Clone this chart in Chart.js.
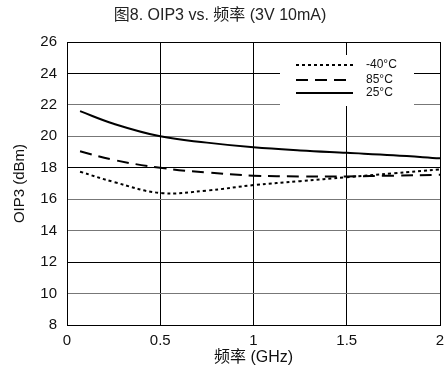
<!DOCTYPE html>
<html>
<head>
<meta charset="utf-8">
<script src="https://cdn.jsdelivr.net/npm/chart.js@4/dist/chart.umd.min.js"></script>
<style>
  html, body { margin: 0; padding: 0; background: #fff; }
  #wrap { width: 446px; height: 376px; }
</style>
</head>
<body>
<div id="wrap"><canvas id="oip3Chart"></canvas></div>
<script>
// Data
const freqs = [0.07, 0.25, 0.5, 0.75, 1.0, 1.25, 1.5, 1.75, 2.0];
const oip3Cold = [17.75, 17.1, 16.4, 16.55, 16.9, 17.15, 17.4, 17.65, 17.9];   // -40°C
const oip3Hot = [19.05, 18.5, 18.0, 17.7, 17.5, 17.45, 17.45, 17.5, 17.55];    // 85°C
const oip3Room = [21.6, 20.8, 20.0, 19.6, 19.3, 19.1, 18.95, 18.8, 18.6];      // 25°C
const seriesLabels = ['-40°C', '85°C', '25°C'];
const xTicks = [0, 0.5, 1, 1.5, 2];
const yTicks = [8, 10, 12, 14, 16, 18, 20, 22, 24, 26];

const fontFamily = '"Liberation Sans", Arial, "Noto Sans CJK SC", sans-serif';

function toPoints(ys) {
    return freqs.map((f, i) => ({ x: f, y: ys[i] }));
}

// Legend drawn inside the plot, on a white box that hides the grid
const insideLegend = {
    id: 'insideLegend',
    beforeDatasetsDraw(chart) {
        const ctx = chart.ctx;
        ctx.save();
        ctx.fillStyle = '#fff';
        ctx.fillRect(280, 55, 134, 51);
        const rows = [65, 80, 93];
        chart.data.datasets.forEach((ds, i) => {
            const y = rows[i];
            ctx.beginPath();
            ctx.strokeStyle = ds.borderColor;
            ctx.lineWidth = ds.borderWidth;
            ctx.setLineDash(ds.borderDash || []);
            ctx.moveTo(296, y);
            ctx.lineTo(353, y);
            ctx.stroke();
            ctx.setLineDash([]);
            ctx.fillStyle = '#111';
            ctx.font = '12px ' + fontFamily;
            ctx.textBaseline = 'middle';
            ctx.fillText(ds.label, 366, y);
        });
        ctx.restore();
    }
};

const ctx = document.getElementById('oip3Chart').getContext('2d');
const oip3Chart = new Chart(ctx, {
    type: 'line',
    data: {
        datasets: [{
            label: seriesLabels[0],
            data: toPoints(oip3Cold),
            borderColor: '#000',
            borderWidth: 2,
            borderDash: [3, 3],
            tension: 0.4,
            pointRadius: 0
        }, {
            label: seriesLabels[1],
            data: toPoints(oip3Hot),
            borderColor: '#000',
            borderWidth: 2,
            borderDash: [12, 7],
            tension: 0.4,
            pointRadius: 0
        }, {
            label: seriesLabels[2],
            data: toPoints(oip3Room),
            borderColor: '#000',
            borderWidth: 2,
            tension: 0.4,
            pointRadius: 0
        }]
    },
    options: {
        responsive: true,
        maintainAspectRatio: false,
        animation: false,
        layout: { padding: { left: 0, right: 6, top: 0, bottom: 0 } },
        plugins: {
            legend: { display: false },
            tooltip: { enabled: false },
            title: {
                display: true,
                text: '图8. OIP3 vs. 频率 (3V 10mA)',
                color: '#222',
                font: { family: fontFamily, size: 16, weight: 'normal' },
                padding: { top: 6, bottom: 16.8 }
            }
        },
        scales: {
            x: {
                type: 'linear',
                min: 0,
                max: 2,
                afterBuildTicks(scale) {
                    scale.ticks = xTicks.map(v => ({ value: v }));
                },
                afterFit(scale) {
                    scale.height = 51;
                    scale.paddingLeft = 0;
                    scale.paddingRight = 0;
                },
                ticks: {
                    color: '#111',
                    padding: 7,
                    maxRotation: 0,
                    font: { family: fontFamily, size: 15 },
                    callback: v => String(v)
                },
                grid: { color: '#000', drawTicks: false },
                border: { color: '#000' },
                title: {
                    display: true,
                    text: '频率 (GHz)',
                    color: '#111',
                    font: { family: fontFamily, size: 16 },
                    padding: { top: 0, bottom: 8.4 }
                }
            },
            y: {
                min: 8,
                max: 26,
                afterBuildTicks(scale) {
                    scale.ticks = yTicks.map(v => ({ value: v }));
                },
                afterFit(scale) { scale.width = 67; },
                ticks: {
                    color: '#111',
                    padding: 10,
                    font: { family: fontFamily, size: 15 }
                },
                grid: {
                    drawTicks: false,
                    color: c => [26, 24, 18, 12, 8].includes(c.tick && c.tick.value) ? '#000' : '#777'
                },
                border: { color: '#000' },
                title: {
                    display: true,
                    text: 'OIP3 (dBm)',
                    color: '#111',
                    font: { family: fontFamily, size: 15 },
                    padding: { top: 11, bottom: 0 }
                }
            }
        }
    },
    plugins: [insideLegend]
});
</script>
</body>
</html>
